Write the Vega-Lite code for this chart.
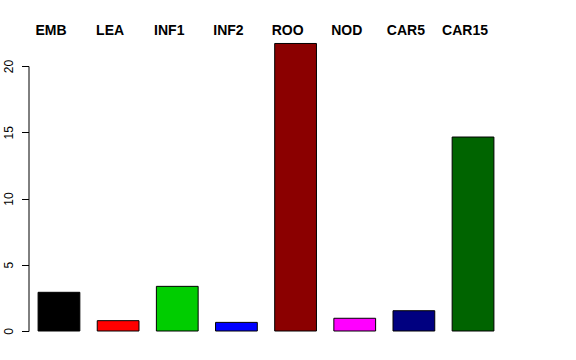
{
  "$schema": "https://vega.github.io/schema/vega-lite/v6.json",
  "width": 475,
  "height": 265,
  "autosize": {"type": "none"},
  "padding": {"left": 28.5, "top": 66, "right": 72.5, "bottom": 29},
  "background": "white",
  "config": {"view": {"stroke": null}, "font": "Liberation Sans"},
  "data": {
    "values": [
      {"tissue": "EMB", "value": 2.92},
      {"tissue": "LEA", "value": 0.78},
      {"tissue": "INF1", "value": 3.37},
      {"tissue": "INF2", "value": 0.65},
      {"tissue": "ROO", "value": 21.7},
      {"tissue": "NOD", "value": 0.96},
      {"tissue": "CAR5", "value": 1.53},
      {"tissue": "CAR15", "value": 14.64}
    ]
  },
  "mark": {"type": "bar", "stroke": "black", "strokeWidth": 1, "clip": false},
  "encoding": {
    "x": {
      "field": "tissue",
      "type": "nominal",
      "sort": null,
      "scale": {"paddingInner": 0.294, "paddingOuter": 0.162},
      "axis": {
        "orient": "top",
        "title": null,
        "domain": false,
        "ticks": false,
        "tickSize": 0,
        "labelAngle": 0,
        "labelAlign": "center",
        "labelBaseline": "alphabetic",
        "labelFontWeight": "bold",
        "labelFontSize": 14,
        "labelColor": "black",
        "labelOffset": -8,
        "labelPadding": 0,
        "offset": 31.7
      }
    },
    "y": {
      "field": "value",
      "type": "quantitative",
      "scale": {"domain": [0, 20], "nice": false, "zero": true},
      "axis": {
        "title": null,
        "values": [0, 5, 10, 15, 20],
        "grid": false,
        "domainColor": "black",
        "tickColor": "black",
        "tickSize": 7,
        "labelAngle": 270,
        "labelAlign": "center",
        "labelBaseline": "alphabetic",
        "labelPadding": 9.5,
        "labelFontSize": 12,
        "labelColor": "black"
      }
    },
    "color": {
      "field": "tissue",
      "type": "nominal",
      "sort": null,
      "legend": null,
      "scale": {
        "domain": ["EMB", "LEA", "INF1", "INF2", "ROO", "NOD", "CAR5", "CAR15"],
        "range": ["#000000", "#FF0000", "#00CD00", "#0000FF", "#8B0000", "#FF00FF", "#000080", "#006400"]
      }
    }
  }
}
